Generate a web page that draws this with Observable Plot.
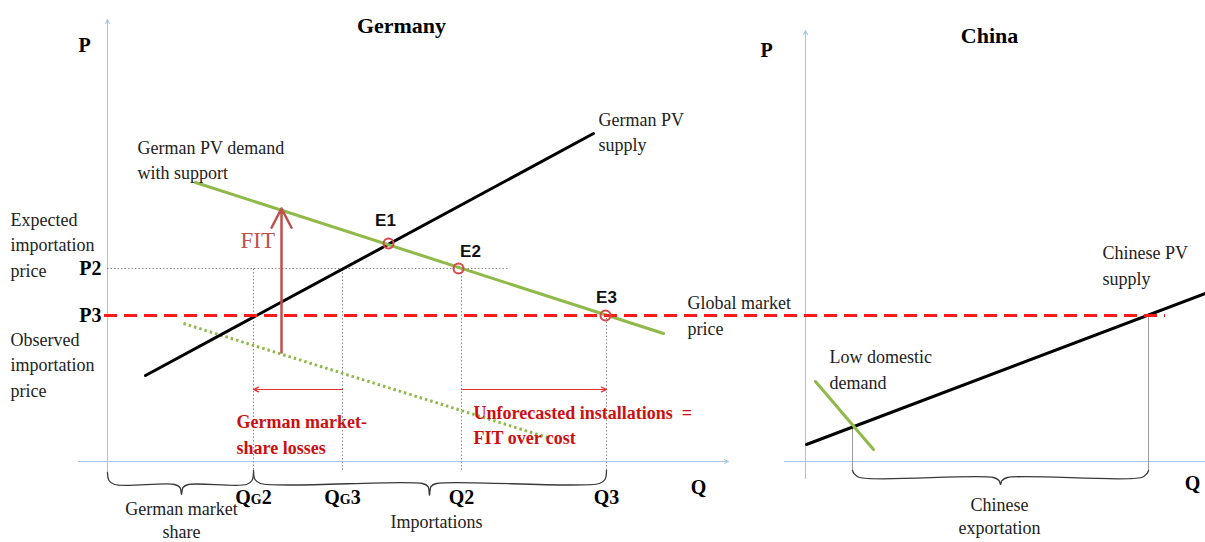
<!DOCTYPE html>
<html><head><meta charset="utf-8">
<script src="https://cdn.jsdelivr.net/npm/d3@7"></script>
<script src="https://cdn.jsdelivr.net/npm/@observablehq/plot@0.6"></script>
<style>body{margin:0;background:#fff;overflow:hidden}</style>
</head><body><div id="chart"></div>
<script>
// ---- Schematic values (Q = quantity, P = price; Germany origin at axes crossing) ----
const qTickLabels = ["QG2", "QG3", "Q2", "Q3"];
const qTickValues = [14.6, 23.5, 35.4, 49.9];
const pTickLabels = ["P2", "P3"];
const pTickValues = [19.3, 14.6];
const germanSupply = [[3.8, 8.6], [48.6, 32.8]];
const germanDemandWithSupport = [[8.8, 27.9], [55.6, 12.8]];
const germanDemandWithoutSupport = [[7.6, 13.8], [44.0, 2.4]];
const eqLabels = ["E1", "E2", "E3"];
const eqQ = [28.1, 35.1, 49.8];
const eqP = [21.8, 19.3, 14.6];
const fitArrowQ = 17.4;
const fitArrowP = [10.9, 25.3];
const p2LineEnd = 40.1;
const globalPriceSpan = [-0.3, 105.8];
const shareArrowsP = 7.2;
// China (own Q units, shifted by chinaOrigin on the shared axis)
const chinaOrigin = 69.8;
const chineseSupply = [[0.1, 1.7], [40.0, 16.8]];
const chineseDemand = [[1.0, 8.0], [6.8, 1.2]];
const chinaMarkQ = [4.7, 34.3];
const chinaMarkP = [3.5, 14.6];

// ---- Labels ----
const titles = [
  {text: "Germany", q: 29.4, p: 43.6},
  {text: "China", q: 88.2, p: 42.6}
];
const axisLetters = [
  {text: "P", q: -2.3, p: 41.6},
  {text: "P", q: 65.9, p: 41.1},
  {text: "Q", q: 59.1, p: -2.6},
  {text: "Q", q: 108.5, p: -2.2}
];
const tickTextP = [-3.6, -3.6, -3.6, -3.6];
const serifNotes = [
  {text: "German PV demand\nwith support", q: 3.0, p: 30.3},
  {text: "German PV\nsupply", q: 49.1, p: 33.1},
  {text: "Expected\nimportation\nprice", q: -9.7, p: 21.85},
  {text: "Observed\nimportation\nprice", q: -9.7, p: 9.85},
  {text: "Global market\nprice", q: 58.0, p: 14.75},
  {text: "Chinese PV\nsupply", q: 99.5, p: 19.75},
  {text: "Low domestic\ndemand", q: 72.2, p: 9.35}
];
const bottomNotes = [
  {text: "German market\nshare", q: 7.4, p: -5.75},
  {text: "Importations", q: 32.9, p: -5.9},
  {text: "Chinese\nexportation", q: 89.2, p: -5.35}
];
const redNotes = [
  {text: "German market-\nshare losses", q: 12.9, p: 2.85},
  {text: "Unforecasted installations  =\nFIT over cost", q: 36.6, p: 3.8}
];
const eqLabelQ = [27.8, 36.3, 49.9];
const eqLabelP = [24.1, 21.0, 16.4];

// ---- Build tables ----
const seg = (arr, name, dq = 0) => arr.map(([q, p]) => ({q: q + dq, p, name}));
function brace(q0, q1, qm, top, base, tip) {
  const pts = [[q0, top], [q0 + 0.15, base + 0.4], [q0 + 0.7, base], [qm - 0.7, base], [qm - 0.15, base - 0.3], [qm, tip],
    [qm + 0.15, base - 0.3], [qm + 0.7, base], [q1 - 0.7, base], [q1 - 0.15, base + 0.4], [q1, top]];
  return pts.map(([q, p]) => ({q, p}));
}
const braces = [
  brace(0, qTickValues[0], 7.4, -1.1, -2.3, -3.3),
  brace(qTickValues[0], qTickValues[3], 32.2, -0.9, -2.2, -3.4),
  brace(chinaOrigin + chinaMarkQ[0], chinaOrigin + chinaMarkQ[1], chinaOrigin + 19.5, -0.9, -1.6, -2.3)
];
const eqTable = eqLabels.map((t, i) => ({text: t, q: eqQ[i], p: eqP[i], lq: eqLabelQ[i], lp: eqLabelP[i]}));
const qTickTable = qTickLabels.map((t, i) => ({text: t, q: qTickValues[i], p: tickTextP[i]}));
const qGuideTop = [pTickValues[0], pTickValues[0], pTickValues[0], pTickValues[1]];
const qGuides = qTickValues.map((q, i) => ({q, top: qGuideTop[i], bottom: i === 0 ? -1.2 : -0.9}));
const chinaGuides = chinaMarkQ.map((q, i) => ({q: q + chinaOrigin, top: chinaMarkP[i], bottom: -0.9}));

const axisColor = "#a9c5e8";
const green = "#8fb948";
const serif = "Liberation Serif, serif";

const chart = Plot.plot({
  width: 1205, height: 542,
  margin: 0,
  x: {domain: [-10.7, 109.8], axis: null},
  y: {domain: [-8.1, 46.1], axis: null},
  style: {background: "#fff", overflow: "visible"},
  marks: [
    // axes
    Plot.arrow([{x1: 0, y1: -1.1, x2: 0, y2: 44.2}, {x1: -2.9, y1: 0, x2: 62.1, y2: 0},
                {x1: chinaOrigin, y1: -1.7, x2: chinaOrigin, y2: 43.1}, {x1: chinaOrigin - 2.1, y1: 0, x2: 110.5, y2: 0}],
      {x1: "x1", y1: "y1", x2: "x2", y2: "y2", stroke: axisColor, strokeWidth: 1.1, headLength: 6, headAngle: 50}),
    // guides
    Plot.ruleY([pTickValues[0]], {x1: 0, x2: p2LineEnd, stroke: "#8a8a8a", strokeWidth: 1, strokeDasharray: "1.5,2"}),
    Plot.ruleX(qGuides, {x: "q", y1: "bottom", y2: "top", stroke: "#8a8a8a", strokeWidth: 1, strokeDasharray: "1.5,2"}),
    Plot.ruleX(chinaGuides, {x: "q", y1: "bottom", y2: "top", stroke: "#9a9a9a", strokeWidth: 1}),
    // braces
    ...braces.map(b => Plot.line(b, {x: "q", y: "p", stroke: "#3a3a3a", strokeWidth: 1.3, curve: "catmull-rom"})),
    // curves
    Plot.line(seg(germanDemandWithoutSupport, "d0"), {x: "q", y: "p", stroke: green, strokeWidth: 3, strokeDasharray: "2.5,3", strokeLinecap: "butt"}),
    Plot.line(seg(germanSupply, "s"), {x: "q", y: "p", stroke: "#000", strokeWidth: 3}),
    Plot.line(seg(chineseSupply, "cs", chinaOrigin), {x: "q", y: "p", stroke: "#000", strokeWidth: 3}),
    Plot.line(seg(chineseDemand, "cd", chinaOrigin), {x: "q", y: "p", stroke: green, strokeWidth: 3}),
    Plot.line(seg(germanDemandWithSupport, "d"), {x: "q", y: "p", stroke: green, strokeWidth: 3}),
    // global market price
    Plot.ruleY([pTickValues[1]], {x1: globalPriceSpan[0], x2: globalPriceSpan[1], stroke: "#ff1a1a", strokeWidth: 3, strokeDasharray: "13,7"}),
    // FIT arrow
    Plot.arrow([{x: fitArrowQ, y1: fitArrowP[0], y2: fitArrowP[1]}], {x1: "x", x2: "x", y1: "y1", y2: "y2", stroke: "#c0504d", strokeWidth: 2.5, headLength: 13, headAngle: 55}),
    // market share arrows
    Plot.arrow([{a: qTickValues[1], b: qTickValues[0]}, {a: qTickValues[2], b: qTickValues[3]}],
      {x1: "a", x2: "b", y1: shareArrowsP, y2: shareArrowsP, stroke: "#e8322f", strokeWidth: 1.2, headLength: 7, headAngle: 50}),
    // equilibria
    Plot.dot(eqTable, {x: "q", y: "p", r: 5, stroke: "#d9464b", strokeWidth: 2, fill: "none"}),
    Plot.text(eqTable, {x: "lq", y: "lp", text: "text", fontFamily: "Liberation Sans, sans-serif", fontWeight: "bold", fontSize: 17, fill: "#111"}),
    // text
    Plot.text(titles, {x: "q", y: "p", text: "text", fontFamily: serif, fontWeight: "bold", fontSize: 22, fill: "#000"}),
    Plot.text(axisLetters, {x: "q", y: "p", text: "text", fontFamily: serif, fontWeight: "bold", fontSize: 20, fill: "#000"}),
    Plot.text(pTickLabels.map((t, i) => ({text: t, p: pTickValues[i]})), {x: -0.6, y: "p", text: "text", textAnchor: "end", fontFamily: serif, fontWeight: "bold", fontSize: 20, fill: "#000"}),
    Plot.text(qTickTable, {x: "q", y: "p", text: "text", fontFamily: serif, fontWeight: "bold", fontSize: 20, fill: "#000"}),
    Plot.text(serifNotes, {x: "q", y: "p", text: "text", textAnchor: "start", lineHeight: 1.42, fontFamily: serif, fontSize: 18, fill: "#222"}),
    Plot.text(bottomNotes, {x: "q", y: "p", text: "text", lineHeight: 1.3, fontFamily: serif, fontSize: 18, fill: "#222"}),
    Plot.text(redNotes, {x: "q", y: "p", text: "text", textAnchor: "start", lineHeight: 1.42, fontFamily: serif, fontWeight: "bold", fontSize: 18, fill: "#cc0f0f"}),
    Plot.text([{text: "FIT", q: 13.3, p: 22.1}], {x: "q", y: "p", text: "text", textAnchor: "start", fontFamily: serif, fontSize: 23, fill: "#c0504d"})
  ]
});

// small-caps G in QG labels
chart.querySelectorAll("text").forEach(t => {
  const m = t.textContent.match(/^Q(G)(\d)$/);
  if (m && t.children.length === 0) {
    t.textContent = "Q";
    const g = document.createElementNS("http://www.w3.org/2000/svg", "tspan");
    g.setAttribute("font-size", "14");
    g.textContent = "G";
    t.appendChild(g);
    const d = document.createElementNS("http://www.w3.org/2000/svg", "tspan");
    d.textContent = m[2];
    t.appendChild(d);
  }
});
document.getElementById("chart").appendChild(chart);
</script>
</body></html>
